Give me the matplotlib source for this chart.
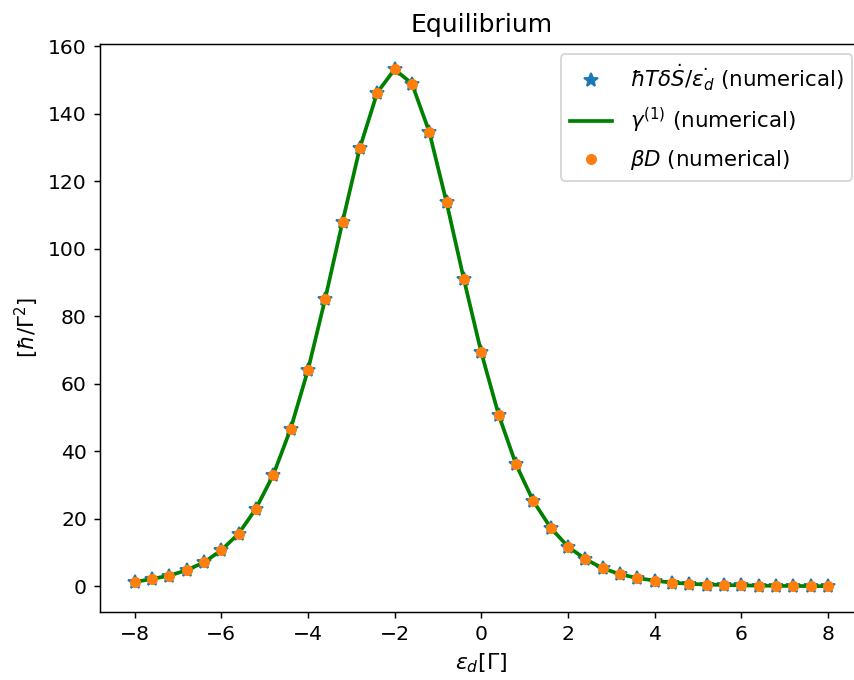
import matplotlib
matplotlib.use("Agg")
import matplotlib.pyplot as plt
import numpy as np

plt.rcParams['font.size'] = 11

# detuning values in units of Gamma
eps_d = np.round(np.arange(-8.0, 8.01, 0.4), 1)

# friction coefficient
entropy_vals = [1.3, 2.2, 3.2, 4.8, 7.1, 10.7, 15.6, 23.0, 33.0, 46.6,
                64.0, 85.2, 108.0, 129.9, 146.2, 153.1, 148.9, 134.6, 113.7, 90.9,
                69.3, 50.9, 36.2, 25.3, 17.4, 11.8, 8.1, 5.4, 3.6, 2.5,
                1.7, 1.1, 0.75, 0.55, 0.4, 0.3, 0.22, 0.16, 0.12, 0.09, 0.07]
gamma_vals = list(entropy_vals)
betaD_vals = list(entropy_vals)

fig, ax = plt.subplots(figsize=(854 / 133, 680 / 133), dpi=133)
# the original was cropped just inside the right spine
fig.subplots_adjust(left=0.117, right=1.010, bottom=0.1, top=0.936)

ax.plot(eps_d, entropy_vals, '*', color='C0', markersize=7.5,
        label=r'$\hbar T\delta\dot{S}/\dot{\epsilon_d}$ (numerical)')
ax.plot(eps_d, gamma_vals, '-', color='g', linewidth=2,
        label=r'$\gamma^{(1)}$ (numerical)')
ax.plot(eps_d, betaD_vals, 'o', color='C1', markersize=5,
        label=r'$\beta D$ (numerical)')

ax.set_title('Equilibrium', fontsize=13.5)
ax.set_xlabel(r'$\epsilon_d[\Gamma]$', fontsize=12)
ax.set_ylabel(r'$[\hbar/\Gamma^2]$', fontsize=11.5)
ax.legend(loc='upper right', fontsize=11.6, labelspacing=0.6)

fig.savefig('out.png', dpi=133)
